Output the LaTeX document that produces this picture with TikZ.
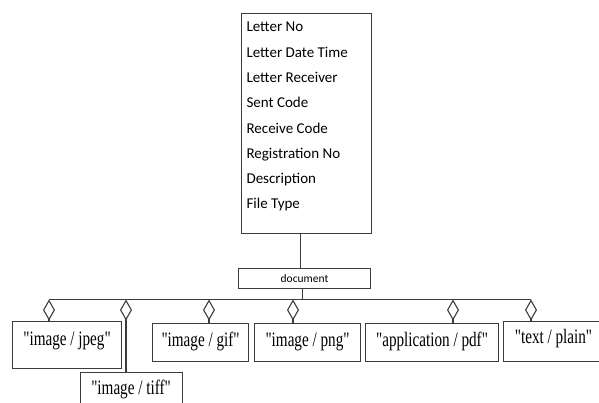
\documentclass[tikz,border=0pt]{standalone}
\usepackage{fontspec}
\usepackage{tikz}
\usetikzlibrary{arrows.meta}
\newfontfamily\fieldfont{Carlito}
\newfontfamily\mimefont[FakeStretch=0.74]{Liberation Serif}
\definecolor{linec}{RGB}{60,60,60}

\begin{document}
\begin{tikzpicture}[x=1pt,y=-1pt,line width=1.1pt,
  box/.style={draw=linec,inner sep=0pt,anchor=north west},
  mime/.style={box,font=\fontsize{20.5}{24}\mimefont},
  has/.style={-{Diamond[open,length=21pt,width=12pt]},draw=linec}]
\clip (0,0) rectangle (599,402);

% record box and the document node
\node[box,minimum width=130pt,minimum height=220pt] (rec) at (241,13) {};
\node[anchor=north west,align=left,inner sep=0pt,
  font=\fontsize{15}{25.3}\fieldfont] (fields) at (246,21.7)
  {Letter No\\Letter Date Time\\Letter Receiver\\Sent Code\\Receive Code\\
   Registration No\\Description\\File Type};
\node[box,minimum width=132pt,minimum height=20.5pt,
  font=\fontsize{11.5}{13}\fieldfont] (doc) at (238,267.5) {document};

%\node (b0) at (300,299) {};
\coordinate (b1) at (49,299.5);
\coordinate (b2) at (126,299.5);
\coordinate (b3) at (209,299.5);
\coordinate (b4) at (293,299.5);
\coordinate (b5) at (453,299.5);
\coordinate (b6) at (531,299.5);

\node[mime,minimum width=109pt,text height=24pt,text depth=23pt] (jpeg) at (12,321) {"image / jpeg"};
\node[mime,minimum width=102pt,text height=22pt,text depth=20pt] (tiff) at (79.5,372) {"image / tiff"};
\node[mime,minimum width=96pt,text height=22.5pt,text depth=15.5pt] (gif) at (152,323) {"image / gif"};
\node[mime,minimum width=106pt,text height=22.5pt,text depth=15.5pt] (png) at (254,323) {"image / png"};
\node[mime,minimum width=133pt,text height=22.5pt,text depth=15.5pt] (pdf) at (365,323) {"application / pdf"};
\node[mime,minimum width=100pt,text height=22pt,text depth=18pt] (plain) at (503,321) {"text / plain"};

\draw[linec] (rec.south -| 300.7,0) -- (doc.north -| 300.7,0);
\draw[linec] ([xshift=-2pt]doc.south) -- ([xshift=-2pt]doc.south |- b1);
\draw[linec] (b1) -- (b6);

\draw[has] (jpeg.north -| b1) -- (b1);
\draw[has] (tiff.north -| b2) -- (b2);
\draw[has] (gif.north -| b3) -- (b3);
\draw[has] (png.north -| b4) -- (b4);
\draw[has] (pdf.north -| b5) -- (b5);
\draw[has] (plain.north -| b6) -- (b6);
\end{tikzpicture}
\end{document}
